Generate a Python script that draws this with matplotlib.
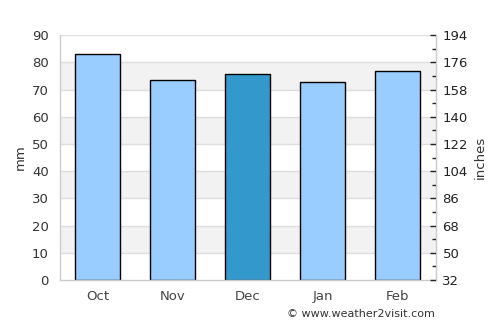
import matplotlib
matplotlib.use("Agg")
import matplotlib.pyplot as plt
from matplotlib.ticker import MultipleLocator, FixedLocator

months = ["Oct", "Nov", "Dec", "Jan", "Feb"]
rain_mm = [82.9, 73.4, 75.6, 72.6, 76.7]
highlight = "Dec"
right_labels = ["32", "50", "68", "86", "104", "122", "140", "158", "176", "194"]

fig = plt.figure(figsize=(5, 3.25), dpi=100)
ax = fig.add_axes([0.12, 0.1385, 0.751, 0.7535])

ax.set_xlim(-0.5, len(months) - 0.5)
ax.set_ylim(0, 90)
for lo in range(10, 90, 20):
    ax.axhspan(lo, lo + 10, color="#f2f2f2", zorder=0, lw=0)
for y in range(10, 100, 10):
    ax.axhline(y, color="#dddddd", lw=1, zorder=0.5)

colors = ["#3399cc" if m == highlight else "#99ccff" for m in months]
ax.bar(range(len(months)), rain_mm, width=0.6, color=colors, edgecolor="black", linewidth=1, zorder=2)

ax.set_xticks(range(len(months)))
ax.set_xticklabels(months, color="#444444", fontsize=9.5)
ax.tick_params(axis="x", length=0, pad=7)
ax.yaxis.set_major_locator(MultipleLocator(10))
ax.tick_params(axis="y", length=0, labelsize=9.5, labelcolor="#333333", pad=8)
ax.set_ylabel("mm", fontsize=9.5, color="#333333", labelpad=4)

ax.spines["top"].set_visible(False)
for s in ["left", "bottom", "right"]:
    ax.spines[s].set_color("#cccccc")
    ax.spines[s].set_linewidth(1)

ax2 = ax.twinx()
ax2.set_ylim(0, 90)
ax2.yaxis.set_major_locator(FixedLocator(list(range(0, 100, 10))))
ax2.set_yticklabels(right_labels)
ax2.yaxis.set_minor_locator(FixedLocator(list(range(5, 90, 10))))
ax2.tick_params(axis="y", which="major", direction="in", length=4, width=1, color="#222222",
                labelsize=9.5, labelcolor="#222222", pad=5)
ax2.tick_params(axis="y", which="minor", direction="in", length=3, width=1, color="#222222")
ax2.set_ylabel("inches", fontsize=9.5, color="#333333", labelpad=4)
for s in ["top", "left", "bottom"]:
    ax2.spines[s].set_visible(False)
ax2.spines["right"].set_color("#cccccc")

fig.text(0.87, 0.035, "© www.weather2visit.com", ha="right", va="center", fontsize=8, color="#333333")

fig.savefig("out.png", dpi=100)
